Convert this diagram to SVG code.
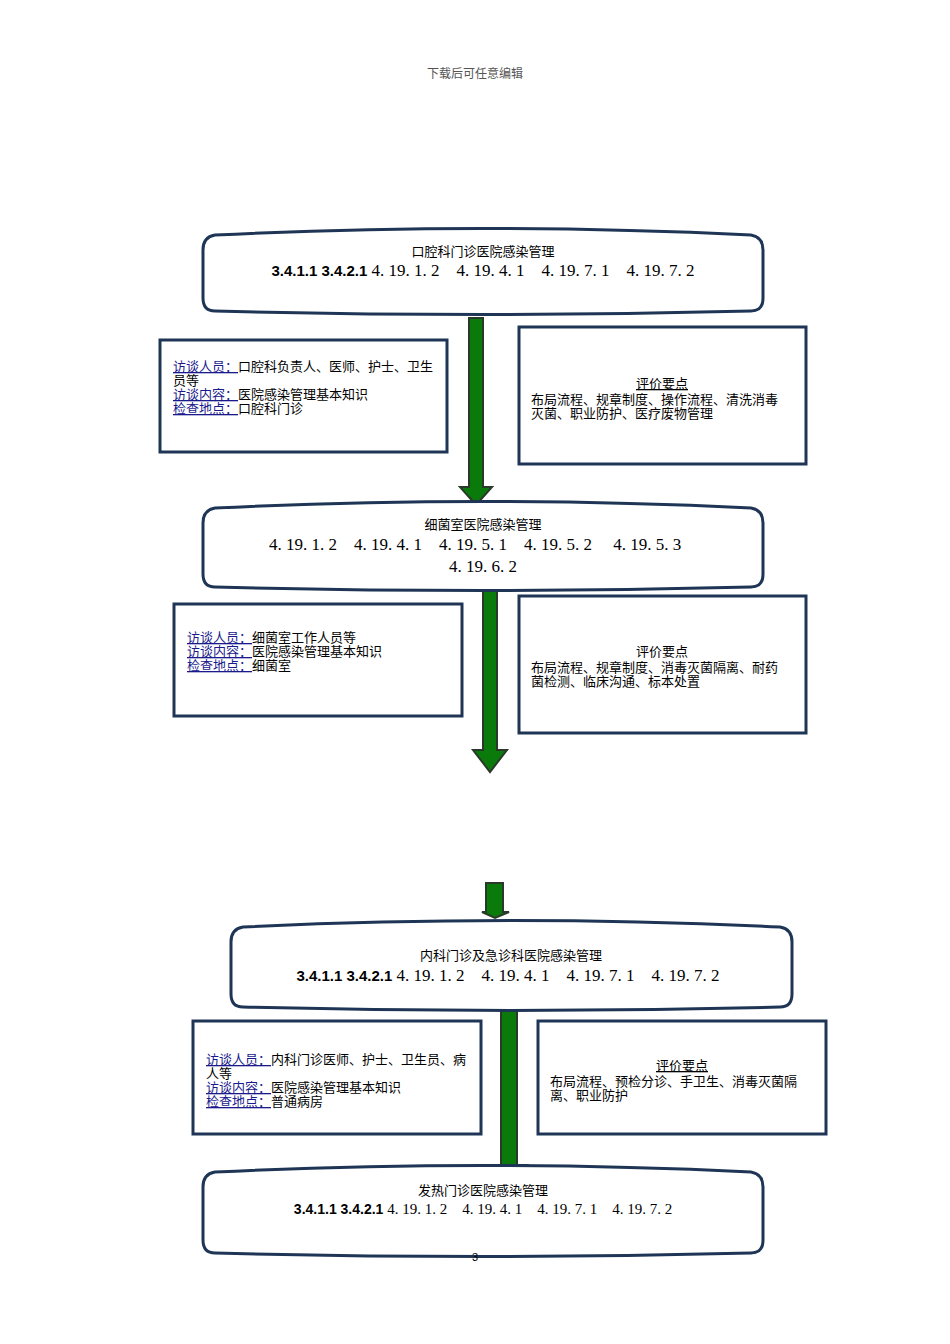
<svg xmlns="http://www.w3.org/2000/svg" width="950" height="1344" viewBox="0 0 950 1344">
<style>
.t{font-family:"Liberation Serif","Noto Sans CJK SC",serif;font-size:13px;fill:#000}
.c{font-family:"Liberation Sans","Noto Sans CJK SC",sans-serif;font-size:13px;fill:#000}
.n{font-family:"Liberation Serif","Noto Sans CJK SC",serif;font-size:17px;fill:#000}
.b{font-family:"Liberation Sans",sans-serif;font-size:15px;font-weight:bold;fill:#000}
.k{fill:#1a1a8c;text-decoration:underline}
.box{fill:#fff;stroke:#1f3556;stroke-width:3}
.ar{fill:#0a7a0a;stroke:#2a3a2a;stroke-width:2}
</style>
<text x="475" y="78" text-anchor="middle" class="c" font-size="12" fill="#555" style="fill:#555;font-size:12px">下载后可任意编辑</text>
<g id="connectors">
<path class="ar" d="M469,318 H483 V487 H492 L476,505 L460,487 H469 Z"/>
<path class="ar" d="M483,583 H497 V750 H507 L490,772 L473,750 H483 Z"/>
<path class="ar" d="M486,883 H503 V912 H509 L495,918 L482,912 H486 Z"/>
<path class="ar" d="M501,1000 H517 V1165 H527 L509,1185 L491,1165 H501 Z"/>
</g>
<g id="n1">
<path class="box" d="M215,235 Q483,222 751,235 Q763,237 763,250 V298 Q763,311 751,311 Q483,318 215,311 Q203,311 203,298 V250 Q203,237 215,235 Z"/>
<text x="483" y="256" text-anchor="middle" class="c">口腔科门诊医院感染管理</text>
<text x="483" y="276" text-anchor="middle"><tspan class="b">3.4.1.1  3.4.2.1</tspan><tspan class="n" xml:space="preserve"> 4. 19. 1. 2    4. 19. 4. 1    4. 19. 7. 1    4. 19. 7. 2</tspan></text>
</g>
<g id="l1">
<rect class="box" x="160" y="340" width="287" height="112"/>
<text class="c" x="173" y="371"><tspan class="k">访谈人员：</tspan>口腔科负责人、医师、护士、卫生</text>
<text class="c" x="173" y="385">员等</text>
<text class="c" x="173" y="399"><tspan class="k">访谈内容：</tspan>医院感染管理基本知识</text>
<text class="c" x="173" y="413"><tspan class="k">检查地点：</tspan>口腔科门诊</text>
</g>
<g id="r1">
<rect class="box" x="519" y="327" width="287" height="137"/>
<text class="c" x="662" y="388" text-anchor="middle" text-decoration="underline">评价要点</text>
<text class="c" x="531" y="404">布局流程、规章制度、操作流程、清洗消毒</text>
<text class="c" x="531" y="418">灭菌、职业防护、医疗废物管理</text>
</g>
<g id="n2">
<path class="box" d="M215,508 Q483,495 751,508 Q763,510 763,523 V574 Q763,587 751,587 Q483,594 215,587 Q203,587 203,574 V523 Q203,510 215,508 Z"/>
<text x="483" y="529" text-anchor="middle" class="c">细菌室医院感染管理</text>
<text x="475" y="550" text-anchor="middle" class="n" xml:space="preserve">4. 19. 1. 2    4. 19. 4. 1    4. 19. 5. 1    4. 19. 5. 2     4. 19. 5. 3</text>
<text x="483" y="572" text-anchor="middle" class="n">4. 19. 6. 2</text>
</g>
<g id="l2">
<rect class="box" x="174" y="604" width="288" height="112"/>
<text class="c" x="187" y="642"><tspan class="k">访谈人员：</tspan>细菌室工作人员等</text>
<text class="c" x="187" y="656"><tspan class="k">访谈内容：</tspan>医院感染管理基本知识</text>
<text class="c" x="187" y="670"><tspan class="k">检查地点：</tspan>细菌室</text>
</g>
<g id="r2">
<rect class="box" x="519" y="596" width="287" height="137"/>
<text class="c" x="662" y="656" text-anchor="middle">评价要点</text>
<text class="c" x="531" y="672">布局流程、规章制度、消毒灭菌隔离、耐药</text>
<text class="c" x="531" y="686">菌检测、临床沟通、标本处置</text>
</g>
<g id="n3">
<path class="box" d="M243,927 Q511,914 780,927 Q792,929 792,942 V994 Q792,1007 780,1007 Q511,1014 243,1007 Q231,1007 231,994 V942 Q231,929 243,927 Z"/>
<text x="511" y="960" text-anchor="middle" class="c">内科门诊及急诊科医院感染管理</text>
<text x="508" y="981" text-anchor="middle"><tspan class="b">3.4.1.1  3.4.2.1</tspan><tspan class="n" xml:space="preserve"> 4. 19. 1. 2    4. 19. 4. 1    4. 19. 7. 1    4. 19. 7. 2</tspan></text>
</g>
<g id="l3">
<rect class="box" x="193" y="1021" width="288" height="113"/>
<text class="c" x="206" y="1064"><tspan class="k">访谈人员：</tspan>内科门诊医师、护士、卫生员、病</text>
<text class="c" x="206" y="1078">人等</text>
<text class="c" x="206" y="1092"><tspan class="k">访谈内容：</tspan>医院感染管理基本知识</text>
<text class="c" x="206" y="1106"><tspan class="k">检查地点：</tspan>普通病房</text>
</g>
<g id="r3">
<rect class="box" x="538" y="1021" width="288" height="113"/>
<text class="c" x="682" y="1070" text-anchor="middle" text-decoration="underline">评价要点</text>
<text class="c" x="550" y="1086">布局流程、预检分诊、手卫生、消毒灭菌隔</text>
<text class="c" x="550" y="1100">离、职业防护</text>
</g>
<g id="n4">
<path class="box" d="M215,1172 Q483,1159 751,1172 Q763,1174 763,1187 V1240 Q763,1253 751,1253 Q483,1260 215,1253 Q203,1253 203,1240 V1187 Q203,1174 215,1172 Z"/>
<text x="483" y="1195" text-anchor="middle" class="c">发热门诊医院感染管理</text>
<text x="483" y="1214" text-anchor="middle"><tspan class="b" style="font-size:14px">3.4.1.1  3.4.2.1</tspan><tspan class="n" style="font-size:15px" xml:space="preserve"> 4. 19. 1. 2    4. 19. 4. 1    4. 19. 7. 1    4. 19. 7. 2</tspan></text>
</g>
<text x="475" y="1261" text-anchor="middle" class="c" style="font-size:11px">3</text>
</svg>
